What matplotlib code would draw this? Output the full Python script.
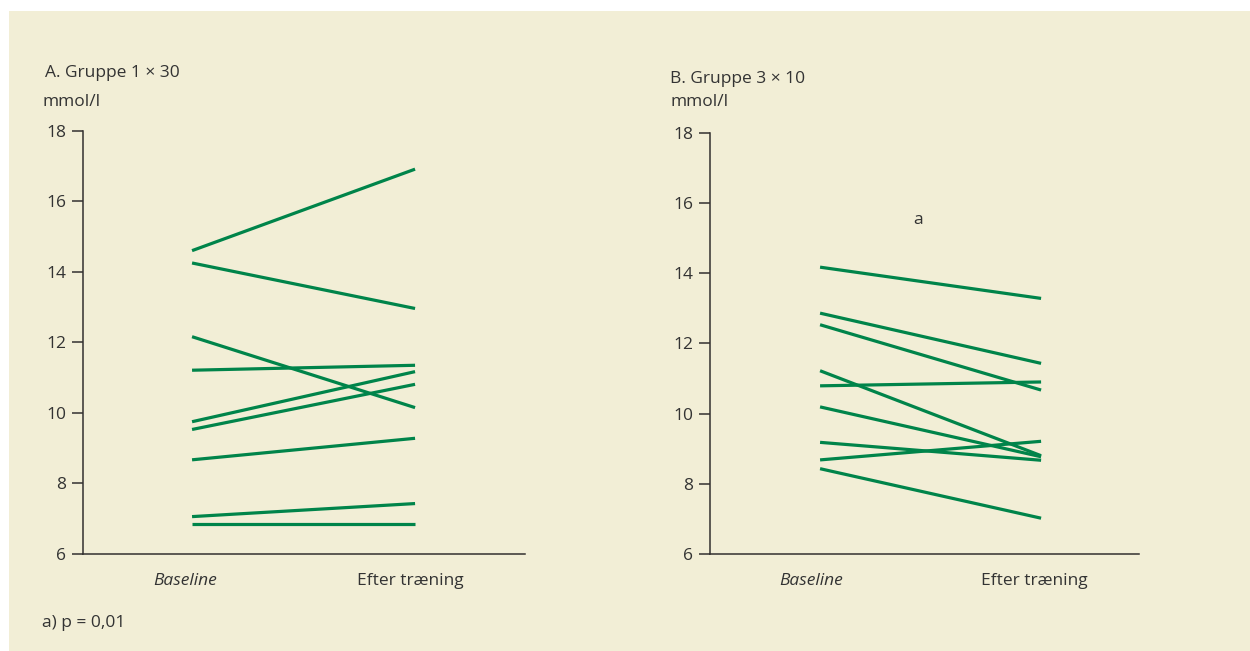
import matplotlib.pyplot as plt
from matplotlib.patches import Rectangle

plt.rcParams['font.family'] = ['Open Sans', 'DejaVu Sans']

# data (mmol/l)
categories = ["Baseline", "Efter træning"]

group_a_before = [14.60, 14.25, 12.16, 11.21, 9.75, 9.53, 8.67, 7.06, 6.86]
group_a_after = [16.91, 12.96, 10.15, 11.35, 11.17, 10.81, 9.28, 7.43, 6.86]

group_b_before = [14.17, 12.86, 12.53, 11.22, 10.79, 10.19, 9.18, 8.68, 8.43]
group_b_after = [13.28, 11.43, 10.67, 8.80, 10.90, 8.77, 8.67, 9.21, 7.02]

yticks = [6, 8, 10, 12, 14, 16, 18]

bg = "#f2eed6"
green = "#00844a"
axcol = "#333030"
txt = "#333333"
fs = 12.5

fig = plt.figure(figsize=(12.5, 6.51), dpi=100)
fig.patch.set_facecolor("white")
fig.patches.append(Rectangle((9 / 1250, 0), 1, 1 - 11 / 651, transform=fig.transFigure,
                             facecolor=bg, edgecolor="none", zorder=-10))

ax_a = fig.add_axes([83 / 1250, 1 - 554 / 651, 442 / 1250, (554 - 130.7) / 651])
ax_b = fig.add_axes([710 / 1250, 1 - 554 / 651, 429 / 1250, (554 - 132.7) / 651])


def setup(ax, before, after, xlim, labpos):
    ax.set_facecolor("none")
    for b, a in zip(before, after):
        ax.plot([0, 1], [b, a], color=green, lw=2.3, solid_capstyle="butt")
    ax.set_xlim(*xlim)
    ax.set_ylim(6, 18)
    ax.set_yticks(yticks)
    ax.set_yticklabels([str(t) for t in yticks], fontsize=fs, color=txt)
    ax.set_xticks(labpos)
    ax.set_xticklabels(categories, fontsize=fs, color=txt)
    ax.get_xticklabels()[0].set_fontstyle("italic")
    ax.tick_params(axis="x", length=0, pad=14)
    ax.tick_params(axis="y", length=8, width=1.1, color=axcol, pad=4)
    for s in ["top", "right"]:
        ax.spines[s].set_visible(False)
    for s in ["left", "bottom"]:
        ax.spines[s].set_color(axcol)
        ax.spines[s].set_linewidth(1.1)


setup(ax_a, group_a_before, group_a_after, (-0.489, 1.493), [-0.03, 0.98])
setup(ax_b, group_b_before, group_b_after, (-0.498, 1.443), [-0.04, 0.97])

fig.text(45 / 1250, 1 - 73 / 651, "A. Gruppe 1 × 30", fontsize=fs, color=txt, va="center")
fig.text(42 / 1250, 1 - 102 / 651, "mmol/l", fontsize=fs, color=txt, va="center")
fig.text(670 / 1250, 1 - 79 / 651, "B. Gruppe 3 × 10", fontsize=fs, color=txt, va="center")
fig.text(670 / 1250, 1 - 102 / 651, "mmol/l", fontsize=fs, color=txt, va="center")
fig.text(918 / 1250, 1 - 220 / 651, "a", fontsize=fs, color=txt, va="center", ha="center")
fig.text(42 / 1250, 1 - 623 / 651, "a) p = 0,01", fontsize=fs, color=txt, va="center")

fig.savefig("out.png", dpi=100, facecolor=fig.get_facecolor())
